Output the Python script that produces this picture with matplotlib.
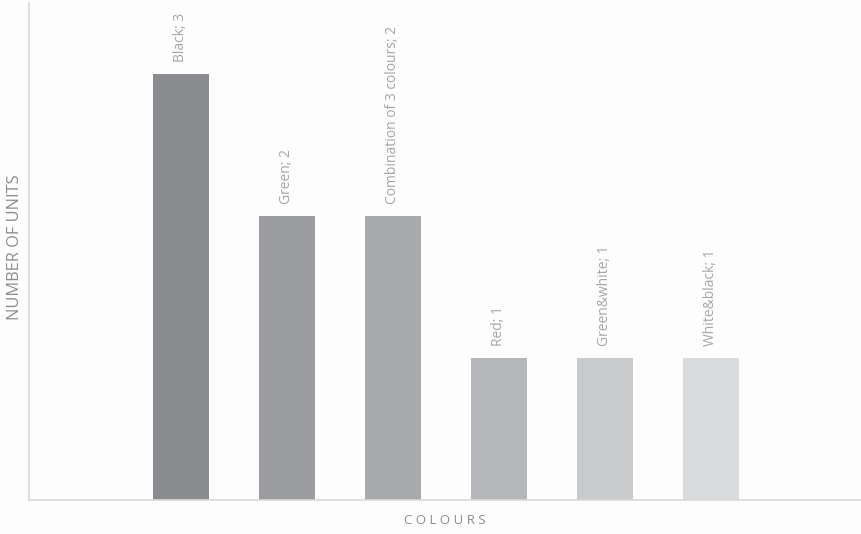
import matplotlib
matplotlib.use('Agg')
import matplotlib.pyplot as plt

# data
categories = ['Black', 'Green', 'Combination of 3 colours', 'Red', 'Green&white', 'White&black']
units = [3, 2, 2, 1, 1, 1]
bar_colors = ['#8a8c8f', '#9b9c9f', '#a7a9ac', '#b5b7ba', '#c8cacc', '#d9dcdf']

plt.rcParams['font.family'] = ['Open Sans', 'DejaVu Sans']

fig = plt.figure(figsize=(8.61, 5.34), dpi=100)
fig.patch.set_facecolor('#fdfdfd')

W, H = 861, 534
ax = fig.add_axes([29 / W, 34 / H, (W - 29) / W, (500 - 3) / H])
ax.set_facecolor('#fdfdfd')

x = list(range(len(categories)))
ax.bar(x, units, width=56 / 106, color=bar_colors, zorder=2)

# data labels above bars, rotated
for xi, cat, val in zip(x, categories, units):
    ax.annotate(f'{cat}; {val}', (xi, val), xytext=(0, 9), textcoords='offset points',
                rotation=90, ha='center', va='bottom', fontsize=10, color='#a6a6a6')

ax.set_xlim(-152 / 106, (W - 181) / 106)
ax.set_ylim(0, 3.5)

for side in ['top', 'right']:
    ax.spines[side].set_visible(False)
for side in ['left', 'bottom']:
    ax.spines[side].set_color('#d9d9d9')
    ax.spines[side].set_linewidth(1.2)

ax.set_xticks([])
ax.set_yticks([])

fig.text(15 / W, 1 - 247 / H, 'NUMBER OF UNITS', rotation=90, ha='center', va='center',
         fontsize=11.8, color='#8c8c8c')
fig.text(445 / W, 1 - 521 / H, 'C O L O U R S', ha='center', va='center',
         fontsize=9.5, color='#8c8c8c')

fig.savefig('out.png', dpi=100, facecolor=fig.get_facecolor())
